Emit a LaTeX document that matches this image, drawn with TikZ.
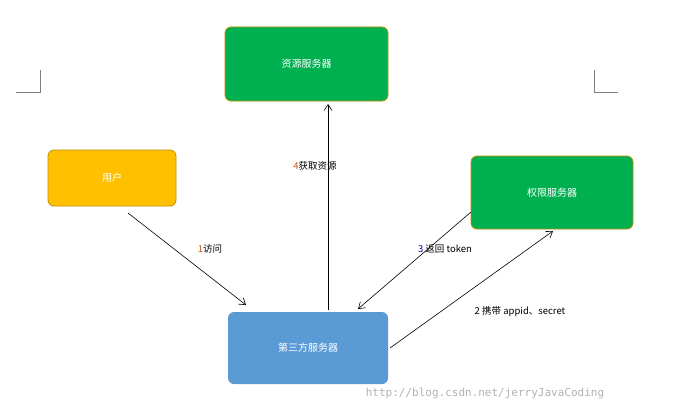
\documentclass[tikz,border=0pt]{standalone}
\usepackage{fontspec}
\setmainfont{Noto Sans CJK SC}
\newfontfamily\wm{DejaVu Sans Mono}
\usetikzlibrary{arrows.meta}
\definecolor{gr}{HTML}{00B050}
\definecolor{yl}{HTML}{FFC000}
\definecolor{bl}{HTML}{5B9BD5}
\definecolor{bd}{HTML}{BF9000}
\definecolor{nm}{HTML}{C55A11}
\tikzset{box/.style={rounded corners=6pt,draw=bd,line width=0.8pt,inner sep=0pt,font=\fontsize{10}{12}\selectfont,text=white},
arr/.style={-{Straight Barb[length=6pt,width=8pt]},line width=0.6pt},
lbl/.style={font=\fontsize{9.5}{11}\selectfont}}
\begin{document}
\begin{tikzpicture}[x=1pt,y=-1pt]
\fill[white] (0,0) rectangle (676,412);
\useasboundingbox (0,0) rectangle (676,412);
\node[box,fill=gr,minimum width=163,minimum height=74] (res) at (306.5,64) {资源服务器};
\node[box,fill=yl,minimum width=128,minimum height=56] (user) at (112,178) {用户};
\node[box,fill=gr,minimum width=162,minimum height=73] (auth) at (552,192.5) {权限服务器};
\node[box,fill=bl,draw=none,minimum width=160,minimum height=72] (third) at (308,348) {第三方服务器};
\draw[line width=0.5pt,gray] (40,70) -- (40,92) -- (16,92);
\draw[line width=0.5pt,gray] (594,70) -- (594,92) -- (618,92);
\coordinate (u1) at (128,213); \coordinate (t1) at (246,305);
\draw[arr] (u1) -- (t1);
\coordinate (t4) at (328,310); \coordinate (r4) at (328,104);
\draw[arr] (t4) -- (r4);
\coordinate (a3) at (471,212); \coordinate (t3) at (358,309);
\draw[arr] (a3) -- (t3);
\coordinate (t2) at (390,348); \coordinate (a2) at (553,231);
\draw[arr] (t2) -- (a2);
\node[lbl] (l1) at (210,249) {\textcolor{nm}{1}访问};
\node[lbl] (l4) at (315,166) {\textcolor{nm}{4}获取资源};
\node[lbl] (l3) at (445,249) {\textcolor{blue!60!black}{3} 返回 token};
\node[lbl] (l2) at (520,312) {2 携带 appid、secret};
\node[font=\wm\fontsize{11}{13}\selectfont,text=gray!60] (w) at (485,393) {http://blog.csdn.net/jerryJavaCoding};
\end{tikzpicture}
\end{document}
